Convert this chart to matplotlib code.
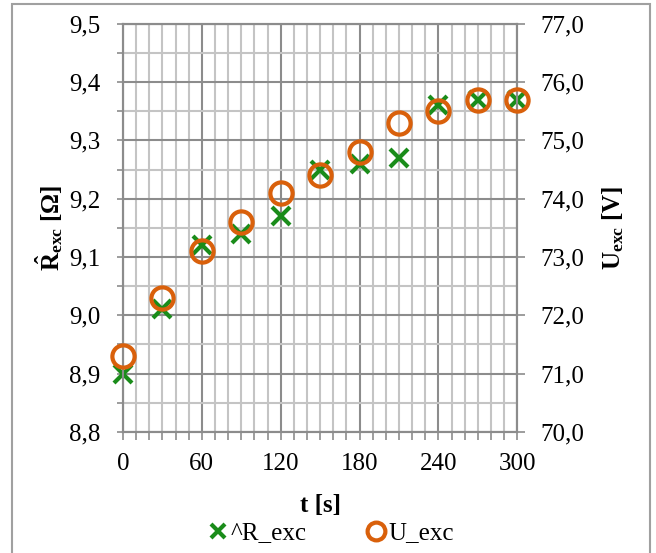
import numpy as np
import matplotlib.pyplot as plt
from matplotlib.ticker import MultipleLocator, FuncFormatter
from matplotlib.patches import Rectangle

plt.rcParams['font.family'] = ['Liberation Serif', 'DejaVu Serif']
plt.rcParams['mathtext.fontset'] = 'custom'
plt.rcParams['mathtext.rm'] = 'Liberation Serif'
plt.rcParams['mathtext.bf'] = 'Liberation Serif:bold'
plt.rcParams['mathtext.it'] = 'Liberation Serif:italic'

# datos
t = [0, 30, 60, 90, 120, 150, 180, 210, 240, 270, 300]
r_exc = [8.90, 9.01, 9.12, 9.14, 9.17, 9.25, 9.26, 9.27, 9.36, 9.37, 9.37]
u_exc = [71.3, 72.3, 73.1, 73.6, 74.1, 74.4, 74.8, 75.3, 75.5, 75.7, 75.7]

verde = '#1a8c1a'
naranja = '#d9600b'
gris_mayor = '#8c8c8c'
gris_menor = '#c4c4c4'

fig = plt.figure(figsize=(6.56, 5.53), dpi=100)
ax = fig.add_axes([0.1875, 0.219, 0.601, 0.738])
ax2 = ax.twinx()

coma = lambda fmt: FuncFormatter(lambda v, p: (fmt % v).replace('.', ','))

ax.set_xlim(0, 300)
ax.set_ylim(8.8, 9.5)
ax2.set_ylim(70.0, 77.0)

ax.xaxis.set_major_locator(MultipleLocator(60))
ax.xaxis.set_minor_locator(MultipleLocator(10))
ax.yaxis.set_major_locator(MultipleLocator(0.1))
ax.yaxis.set_minor_locator(MultipleLocator(0.05))
ax2.yaxis.set_major_locator(MultipleLocator(1.0))
ax.yaxis.set_major_formatter(coma('%.1f'))
ax2.yaxis.set_major_formatter(coma('%.1f'))

ax.grid(which='minor', color=gris_menor, lw=1.5, zorder=0)
ax.grid(which='major', color=gris_mayor, lw=1.5, zorder=0)
ax.set_axisbelow(True)

for a in (ax, ax2):
    for s in a.spines.values():
        s.set_color(gris_mayor)
        s.set_linewidth(1.5)
ax.tick_params(axis='y', which='both', color=gris_mayor, width=1.2, labelsize=18, length=4.5, pad=12)
ax.tick_params(axis='x', which='both', color=gris_mayor, width=1.2, labelsize=18, length=5.5, pad=10)
ax2.tick_params(which='both', color=gris_mayor, width=1.2, labelsize=18, length=6, pad=11)

l1, = ax.plot(t, r_exc, ls='none', marker='x', ms=13, mew=3, color=verde,
              label='^R_exc', zorder=3, clip_on=False)
l2, = ax2.plot(t, u_exc, ls='none', marker='o', ms=16, mew=3, mfc='none',
               mec=naranja, label='U_exc', zorder=3, clip_on=False)

ax.set_xlabel('t [s]', fontsize=18, fontweight='bold')
ax.xaxis.set_label_coords(0.5, -0.152)
ax.set_ylabel(r'$\mathbf{\hat{R}_{exc}}$ $\mathbf{[\Omega]}$', fontsize=18)
ax.yaxis.set_label_coords(-0.148, 0.5)
ax2.set_ylabel(r'$\mathbf{U_{exc}}$ $\mathbf{[V]}$', fontsize=18)
ax2.yaxis.set_label_coords(1.2107, 0.5)

fig.legend(handles=[l1, l2], loc='center', bbox_to_anchor=(0.503, 0.036), ncol=2,
           frameon=False, fontsize=18, handletextpad=0.0, columnspacing=2.3,
           markerscale=0.8, handlelength=1.0)

fig.add_artist(Rectangle((0.019, -0.05), 0.972, 1.042, transform=fig.transFigure,
                         fill=False, edgecolor='#a0a0a0', lw=1.5))

fig.savefig('out.png', dpi=100)
